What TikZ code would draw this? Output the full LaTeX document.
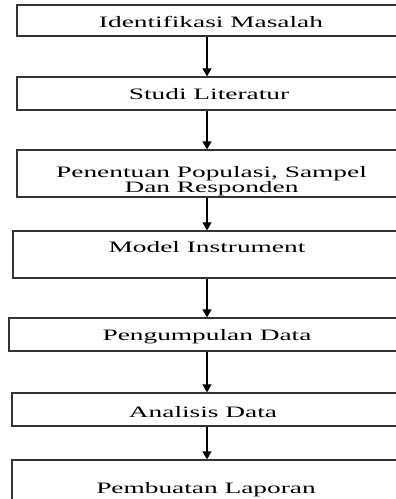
\documentclass[tikz,border=0pt]{standalone}
\usepackage{fontspec}
\setmainfont{Liberation Serif}
\newfontfamily\wideserif[FakeStretch=1.72]{Liberation Serif}
\usetikzlibrary{arrows.meta}
\begin{document}
\begin{tikzpicture}[x=1pt,y=-1pt,
  box/.style={draw=black!80,line width=1.3pt,rectangle,inner sep=0pt},
  lbl/.style={anchor=base,inner sep=0pt,font=\wideserif\fontsize{15.9}{14.5}\selectfont},
  arr/.style={draw=black,line width=1.2pt,-{Triangle[width=9pt,length=8pt]}}]
\useasboundingbox (0,0) rectangle (396,499);
\clip (0,0) rectangle (396,499);
\node[box,minimum width=380pt,minimum height=31pt] (b1) at (207,20.5) {};
\node[box,minimum width=380pt,minimum height=33pt] (b2) at (207,93.5) {};
\node[box,minimum width=380pt,minimum height=47pt] (b3) at (207,173.5) {};
\node[box,minimum width=388pt,minimum height=47pt] (b4) at (207,254.5) {};
\node[box,minimum width=396pt,minimum height=33pt] (b5) at (207,334.5) {};
\node[box,minimum width=390pt,minimum height=33pt] (b6) at (207,409.5) {};
\node[box,minimum width=390pt,minimum height=60pt] (b7) at (207,490) {};
\node[lbl] (t1) at (211,27) {Identifikasi Masalah};
\node[lbl] (t2) at (209,99) {Studi Literatur};
\node[lbl,anchor=north,align=center] (t3) at (211.5,166.5) {Penentuan Populasi, Sampel\\Dan Responden};
\node[lbl] (t4) at (207,252) {Model Instrument};
\node[lbl] (t5) at (207,340) {Pengumpulan Data};
\node[lbl] (t6) at (203,417) {Analisis Data};
\node[lbl] (t7) at (206,493) {Pembuatan Laporan};
\draw[arr] (b1.south) -- (b2.north);
\draw[arr] (b2.south) -- (b3.north);
\draw[arr] (b3.south) -- (b4.north);
\draw[arr] (b4.south) -- (b5.north);
\draw[arr] (b5.south) -- (b6.north);
\draw[arr] (b6.south) -- (b7.north);
\end{tikzpicture}
\end{document}
